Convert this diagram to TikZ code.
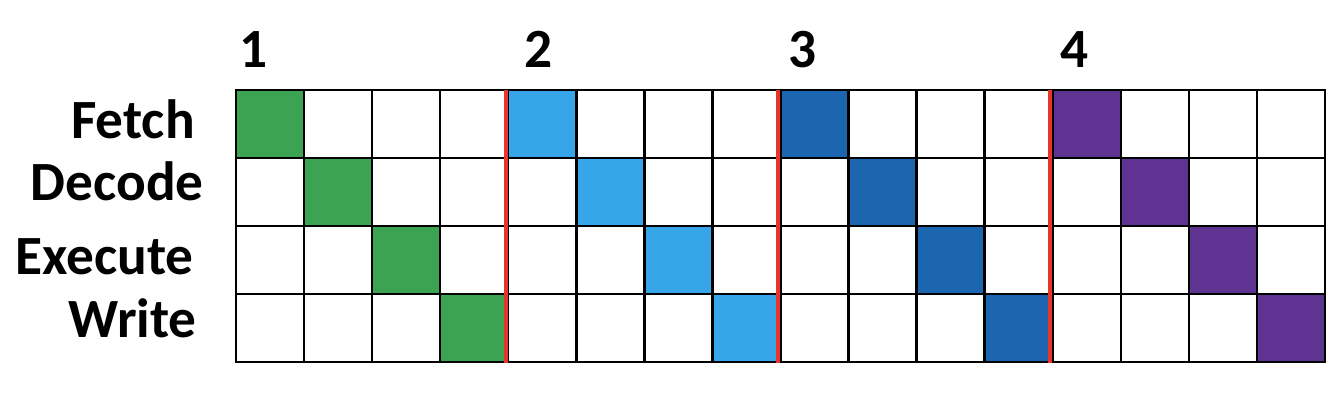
\documentclass[tikz,border=0pt]{standalone}
\usepackage{fontspec}
\setmainfont{Carlito}
\definecolor{cgreen}{HTML}{3CA353}
\definecolor{clblue}{HTML}{36A6E8}
\definecolor{cdblue}{HTML}{1C66B0}
\definecolor{cpurple}{HTML}{5E3391}
\definecolor{cred}{HTML}{E8342A}
\begin{document}
\begin{tikzpicture}[x=0.75pt,y=-0.75pt,
  lbl/.style={font=\bfseries\fontsize{41.5}{44}\selectfont, inner sep=0pt},
  gridline/.style={line width=1.8pt, black, line cap=rect},
  redline/.style={line width=3pt, cred}]
\useasboundingbox (0,0) rectangle (1344,400);
% coloured cells
\foreach \g/\col in {0/cgreen,1/clblue,2/cdblue,3/cpurple}
  \foreach \s in {0,...,3}
    \fill[\col] ({236+(4*\g+\s)*68.06},{90+\s*68}) rectangle ++(68.06,68);
% grid
\foreach \i in {0,...,16}
  \draw[gridline] ({236+\i*68.06},90) -- ({236+\i*68.06},362);
\foreach \j in {0,...,4}
  \draw[gridline] (236,{90+\j*68}) -- (1325,{90+\j*68});
% red separators
\foreach \i in {4,8,12}
  \draw[redline] ({236+\i*68.06-2.5},90) -- ({236+\i*68.06-2.5},363);
% row labels
\node[lbl, anchor=base east] (fetch) at (195,138) {Fetch};
\node[lbl, anchor=base east] (decode) at (204,200) {Decode};
\node[lbl, anchor=base east] (execute) at (194,274) {Execute};
\node[lbl, anchor=base east] (write) at (197,337) {Write};
% group numbers
\node[lbl, anchor=base] (n1) at (254,67) {1};
\node[lbl, anchor=base] (n2) at (539,67) {2};
\node[lbl, anchor=base] (n3) at (803,67) {3};
\node[lbl, anchor=base] (n4) at (1075,67) {4};
\end{tikzpicture}
\end{document}
